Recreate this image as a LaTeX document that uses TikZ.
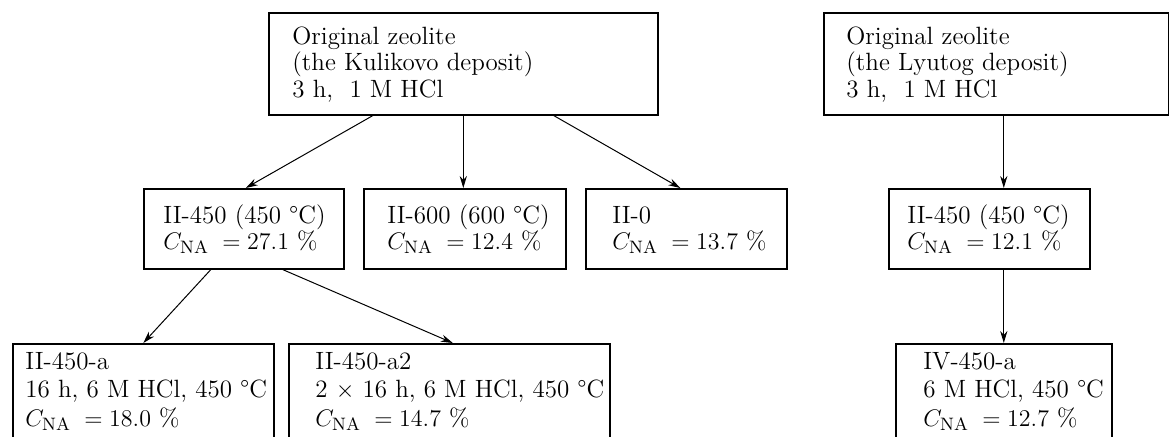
\documentclass[tikz,border=0pt]{standalone}
\usetikzlibrary{arrows.meta}
\begin{document}
\begin{tikzpicture}[x=0.5pt,y=-0.5pt,
  box/.style={draw, line width=0.8pt, rectangle, inner sep=0pt, anchor=north west},
  txttop/.style={align=left, inner sep=0pt, anchor=base west, font=\fontsize{12.5}{13.25}\selectfont},
  txtmid/.style={align=left, inner sep=0pt, anchor=base west, font=\fontsize{12.5}{12.85}\selectfont},
  txtbot/.style={align=left, inner sep=0pt, anchor=base west, font=\fontsize{12.5}{14.25}\selectfont},
  link/.style={-{Stealth[length=6pt,width=3.6pt]}, line width=0.5pt}]
\useasboundingbox (0,0) rectangle (1169,436);
\clip (0,0) rectangle (1169,436);
% top row
\node[box, minimum width=194.5pt, minimum height=51pt] (K) at (268,12) {};
\node[txttop] (Kt) at (292,97) {Original zeolite\\(the Kulikovo deposit)\\3 h,\ \ 1 M HCl};
\node[box, minimum width=172.5pt, minimum height=51pt] (L) at (823,12) {};
\node[txttop] (Lt) at (846,97) {Original zeolite\\(the Lyutog deposit)\\3 h,\ \ 1 M HCl};
% middle row
\node[box, minimum width=100pt, minimum height=40pt] (A) at (143,188) {};
\node[txtmid] (At) at (163,249) {II-450 (450 \textdegree{}C)\\$C_{\mathrm{NA}}\;= 27.1$ \%};
\node[box, minimum width=101pt, minimum height=40pt] (B) at (363,188) {};
\node[txtmid] (Bt) at (387,249) {II-600 (600 \textdegree{}C)\\$C_{\mathrm{NA}}\;= 12.4$ \%};
\node[box, minimum width=100.5pt, minimum height=40pt] (C) at (585,188) {};
\node[txtmid] (Ct) at (612,249) {II-0\\$C_{\mathrm{NA}}\;= 13.7$ \%};
\node[box, minimum width=100.5pt, minimum height=40pt] (D) at (888,188) {};
\node[txtmid] (Dt) at (907,249) {II-450 (450 \textdegree{}C)\\$C_{\mathrm{NA}}\;= 12.1$ \%};
% bottom row
\node[box, minimum width=130.5pt, minimum height=60pt] (E) at (12,343) {};
\node[txtbot] (Et) at (25,426) {II-450-a\\16 h, 6 M HCl, 450 \textdegree{}C\\$C_{\mathrm{NA}}\;= 18.0$ \%};
\node[box, minimum width=160.5pt, minimum height=60pt] (F) at (288,343) {};
\node[txtbot] (Ft) at (315,426) {II-450-a2\\2 $\times$ 16 h, 6 M HCl, 450 \textdegree{}C\\$C_{\mathrm{NA}}\;= 14.7$ \%};
\node[box, minimum width=108pt, minimum height=60pt] (G) at (895,343) {};
\node[txtbot] (Gt) at (923,426) {IV-450-a\\6 M HCl, 450 \textdegree{}C\\$C_{\mathrm{NA}}\;= 12.7$ \%};
% connectors
\draw[link] ([xshift=-45.25pt]K.south) -- ([xshift=1pt]A.north);
\draw[link] (K.south) -- (K.south |- B.north);
\draw[link] ([xshift=45.25pt]K.south) -- ([xshift=-3pt]C.north);
\draw[link] ([xshift=-16.5pt]A.south) -- (E.north);
\draw[link] ([xshift=19.5pt]A.south) -- ([xshift=1.75pt]F.north);
\draw[link] (G.north |- L.south) -- (G.north |- D.north);
\draw[link] (G.north |- D.south) -- (G.north);
\end{tikzpicture}
\end{document}
